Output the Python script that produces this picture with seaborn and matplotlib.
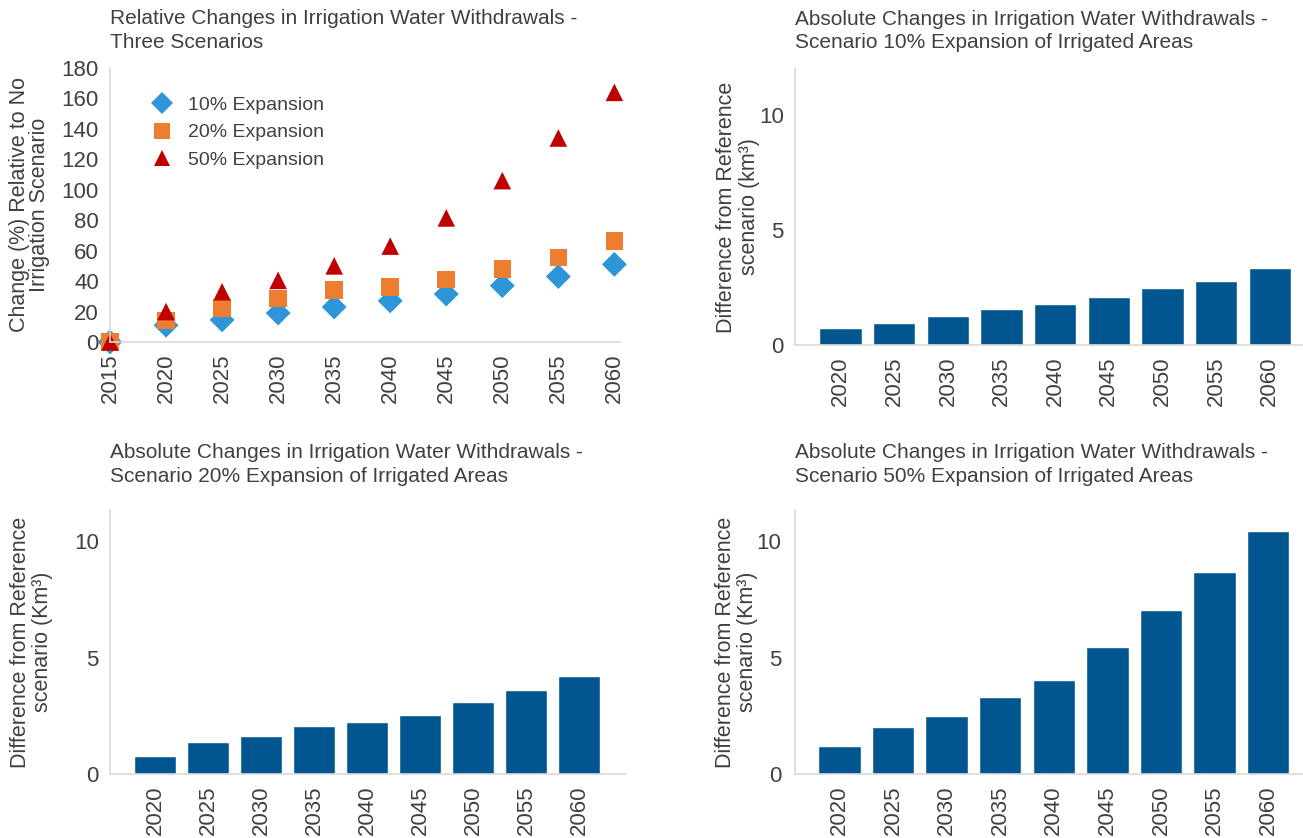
import pandas as pd
import matplotlib
matplotlib.use("Agg")
import matplotlib.pyplot as plt
import seaborn as sns

# relative change (%) vs no-irrigation scenario
years_rel = [2015, 2020, 2025, 2030, 2035, 2040, 2045, 2050, 2055, 2060]
rel_10 = [0, 11, 14.5, 19, 23, 27, 31.5, 37, 43, 51]
rel_20 = [0, 14, 22.5, 28.5, 34, 36, 41, 48, 55.5, 66.5]
rel_50 = [0, 20, 33, 40.5, 50, 63, 81.5, 106, 134, 164]
scenario_names = ["10% Expansion", "20% Expansion", "50% Expansion"]

# absolute change (km3) vs reference scenario
years_abs = ["2020", "2025", "2030", "2035", "2040", "2045", "2050", "2055", "2060"]
abs_10 = [0.75, 0.97, 1.28, 1.55, 1.80, 2.10, 2.46, 2.80, 3.36]
abs_20 = [0.79, 1.39, 1.65, 2.05, 2.25, 2.55, 3.08, 3.63, 4.20]
abs_50 = [1.22, 2.00, 2.48, 3.30, 4.06, 5.44, 7.03, 8.70, 10.43]

TXT = "#404040"
GRID = "#D9D9D9"
BAR = "#02568F"

sns.set_style("white")
plt.rcParams["font.family"] = ["Liberation Sans", "DejaVu Sans"]
plt.rcParams["text.color"] = TXT
plt.rcParams["axes.labelcolor"] = TXT
plt.rcParams["xtick.color"] = TXT
plt.rcParams["ytick.color"] = TXT

W, H = 1303, 838
fig = plt.figure(figsize=(W / 100, H / 100), dpi=100)


def box(x0, x1, ytop, ybot):
    return [x0 / W, 1 - ybot / H, (x1 - x0) / W, (ybot - ytop) / H]


def style_axes(ax, ypad=8):
    for s in ["top", "right"]:
        ax.spines[s].set_visible(False)
    for s in ["left", "bottom"]:
        ax.spines[s].set_color(GRID)
        ax.spines[s].set_linewidth(1.2)
    ax.tick_params(axis="both", length=0, labelsize=16)
    ax.tick_params(axis="x", rotation=90, pad=8)
    ax.tick_params(axis="y", pad=ypad)


# ---- top left: relative changes scatter ----
ax1 = fig.add_axes(box(110, 620, 68, 342))
rel_df = pd.DataFrame({
    "year": years_rel * 3,
    "change": rel_10 + rel_20 + rel_50,
    "scenario": [scenario_names[0]] * 10 + [scenario_names[1]] * 10 + [scenario_names[2]] * 10,
})
palette = {scenario_names[0]: "#2E95D8", scenario_names[1]: "#ED7D31", scenario_names[2]: "#C00000"}
markers = {scenario_names[0]: "D", scenario_names[1]: "s", scenario_names[2]: "^"}
sns.scatterplot(data=rel_df, x="year", y="change", hue="scenario", style="scenario",
                palette=palette, markers=markers, s=160, linewidth=0, ax=ax1)
for c in ax1.collections:
    c.set_clip_on(False)
ax1.set_xlim(2015, 2060.5)
ax1.set_ylim(0, 180)
ax1.set_xticks(years_rel)
ax1.set_yticks(range(0, 181, 20))
style_axes(ax1, ypad=8)
ax1.set_xlabel("")
ax1.set_ylabel("Change (%) Relative to No\nIrrigation Scenario", fontsize=15.5, linespacing=0.95)
ax1.yaxis.set_label_coords(-0.118, 0.5)
leg = ax1.legend(loc="upper left", bbox_to_anchor=(0.03, 0.96), frameon=False, markerscale=0.9,
                 handletextpad=0.3, labelspacing=0.5, prop={"size": 14})
for t in leg.get_texts():
    t.set_color(TXT)
fig.text(110 / W, 1 - 9 / H, "Relative Changes in Irrigation Water Withdrawals -\nThree Scenarios",
         ha="left", va="top", fontsize=15, linespacing=1.3)

# ---- bar panels ----
panels = [
    (abs_10, box(795, 1303, 69, 345), 12.0, "Difference from Reference\nscenario (km\u00b3)", -0.069, (-0.85, 8.62),
     "Absolute Changes in Irrigation Water Withdrawals -\nScenario 10% Expansion of Irrigated Areas", (795, 10), 8),
    (abs_20, box(110, 625, 510, 774), 11.35, "Difference from Reference\nscenario (Km\u00b3)", -0.11, (-0.85, 8.86),
     "Absolute Changes in Irrigation Water Withdrawals -\nScenario 20% Expansion of Irrigated Areas", (110, 443), 8),
    (abs_50, box(795, 1303, 510, 774), 11.35, "Difference from Reference\nscenario (Km\u00b3)", -0.072, (-0.83, 8.65),
     "Absolute Changes in Irrigation Water Withdrawals -\nScenario 50% Expansion of Irrigated Areas", (795, 443), 10),
]

for vals, pos, ytop, ylab, labx, xl, title, tpos, ypad in panels:
    ax = fig.add_axes(pos)
    bar_df = pd.DataFrame({"year": years_abs, "diff": vals})
    sns.barplot(data=bar_df, x="year", y="diff", color=BAR, saturation=1, width=0.79, ax=ax)
    ax.set_ylim(0, ytop)
    ax.set_xlim(*xl)
    ax.set_yticks([0, 5, 10])
    style_axes(ax, ypad=ypad)
    ax.set_xlabel("")
    ax.set_ylabel(ylab, fontsize=15.5, linespacing=1.1)
    ax.yaxis.set_label_coords(labx, 0.5)
    fig.text(tpos[0] / W, 1 - tpos[1] / H, title, ha="left", va="top", fontsize=15,
             linespacing=1.3)

fig.savefig("out.png", dpi=100)
